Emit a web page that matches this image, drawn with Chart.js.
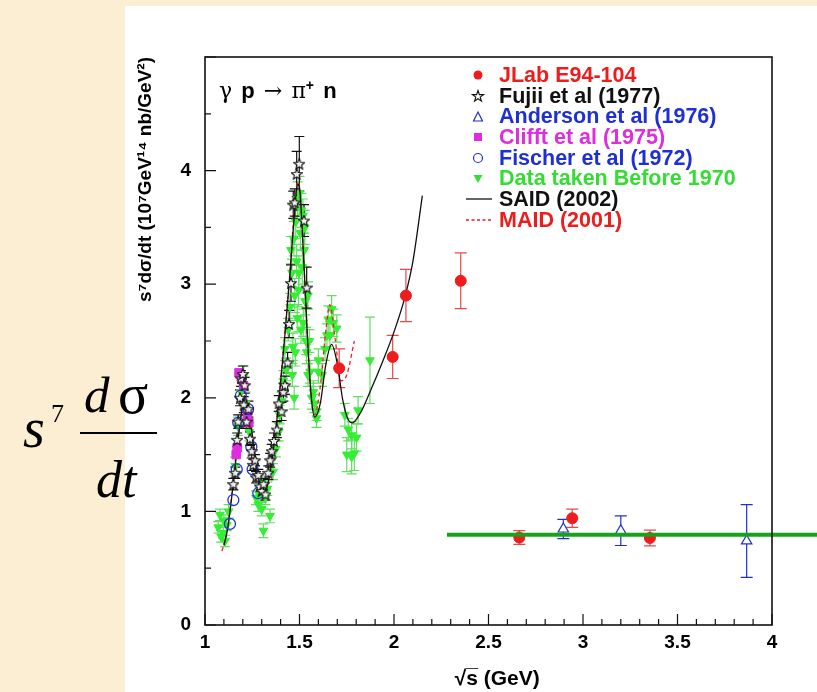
<!DOCTYPE html>
<html>
<head>
<meta charset="utf-8">
<script src="https://cdn.jsdelivr.net/npm/chart.js@4/dist/chart.umd.min.js"></script>
<style>
  body { margin: 0; width: 817px; height: 692px; overflow: hidden; background: #fbeed3; position: relative; }
  #panel { position: absolute; left: 125px; top: 6px; width: 692px; height: 686px; background: #fff; }
  #plot { position: absolute; left: 125px; top: 6px; }
  .lbl { position: absolute; white-space: nowrap; }
  .tm { font-family: "Liberation Serif", "DejaVu Serif", serif; font-style: italic; color: #000; }
  #legend { position: absolute; left: 466px; top: 65px; font: bold 21.5px "Liberation Sans", Arial, sans-serif; }
  #legend div { height: 20.7px; line-height: 20.7px; display: flex; align-items: center; }
  #legend svg { width: 33px; height: 20px; flex: none; }
  #reac { left: 219px; top: 77px; font: bold 22px "Liberation Sans", Arial, sans-serif; word-spacing: 3px; }
  #reac .g { font-family: "DejaVu Serif", serif; font-weight: normal; }
</style>
</head>
<body>
<div id="panel"></div>
<canvas id="plot" width="692" height="686"></canvas>

<div id="reac" class="lbl"><span class="g">γ</span> p <span class="g">→</span> <span class="g">π</span><sup style="font-size:14px">+</sup> n</div>

<div id="legend">
  <div style="color:#ee1c1c"><svg><circle cx="12" cy="10" r="4.5" fill="#ee1c1c"/></svg>JLab E94-104</div>
  <div style="color:#111"><svg><polygon points="12,4.5 13.4,8.6 17.6,8.6 14.2,11.1 15.5,15.2 12,12.7 8.5,15.2 9.8,11.1 6.4,8.6 10.6,8.6" fill="none" stroke="#111" stroke-width="1.1"/></svg>Fujii et al (1977)</div>
  <div style="color:#1f2fd6"><svg><polygon points="12,5 16.5,14 7.5,14" fill="none" stroke="#1f2fd6" stroke-width="1.2"/></svg>Anderson et al (1976)</div>
  <div style="color:#e02ce0"><svg><rect x="8" y="6" width="8" height="8" fill="#e02ce0"/></svg>Clifft et al (1975)</div>
  <div style="color:#1f2fd6"><svg><circle cx="12" cy="10" r="4.5" fill="none" stroke="#1f2fd6" stroke-width="1.2"/></svg>Fischer et al (1972)</div>
  <div style="color:#33dd33"><svg><polygon points="7.5,6 16.5,6 12,14" fill="#33dd33"/></svg>Data taken Before 1970</div>
  <div style="color:#111"><svg><line x1="0" y1="10" x2="26" y2="10" stroke="#111" stroke-width="1.3"/></svg>SAID (2002)</div>
  <div style="color:#ee1c1c"><svg><line x1="0" y1="10" x2="26" y2="10" stroke="#ee1c1c" stroke-width="1.3" stroke-dasharray="3,2.5"/></svg>MAID (2001)</div>
</div>

<div class="lbl tm" style="left:23px; top:400px; font-size:56px; line-height:56px;">s</div>
<div class="lbl" style="left:51px; top:401px; font:26px 'Liberation Serif', serif; line-height:26px;">7</div>
<div class="lbl tm" style="left:84px; top:370px; font-size:51px; line-height:51px;">d</div>
<div class="lbl" style="left:118px; top:366px; font:56px 'Liberation Serif', serif; line-height:56px;">σ</div>
<div class="lbl" style="left:80px; top:432px; width:77px; height:2px; background:#000;"></div>
<div class="lbl tm" style="left:96px; top:454px; font-size:52px; line-height:52px;">dt</div>

<script>
// ---- data (x = sqrt(s) GeV, y = s^7 dsigma/dt, err) ----
var jlabX = [1.71, 1.993, 2.063, 2.353, 2.663, 2.943, 3.354];
var jlabY = [2.26, 2.36, 2.90, 3.03, 0.77, 0.94, 0.766];
var jlabE = [0.17, 0.19, 0.23, 0.245, 0.06, 0.08, 0.07];

var andX = [2.896, 3.20, 3.866];
var andY = [0.845, 0.83, 0.74];
var andE = [0.085, 0.13, 0.32];

var fujiiX = [1.150, 1.160, 1.170, 1.176, 1.185, 1.190, 1.200, 1.205, 1.210, 1.220, 1.230, 1.238, 1.247, 1.255, 1.265, 1.270, 1.282, 1.290, 1.300, 1.310, 1.320, 1.335, 1.345, 1.353, 1.365, 1.380, 1.390, 1.405, 1.415, 1.423, 1.437, 1.445, 1.455, 1.467, 1.475, 1.485, 1.499, 1.524, 1.538];
var fujiiY = [1.24, 1.34, 1.63, 1.79, 2.00, 2.17, 2.21, 1.94, 2.11, 1.79, 1.90, 1.64, 1.53, 1.41, 1.45, 1.30, 1.32, 1.22, 1.18, 1.24, 1.15, 1.34, 1.45, 1.53, 1.62, 1.72, 1.95, 1.88, 2.05, 2.11, 2.31, 2.65, 3.01, 3.70, 3.72, 3.97, 4.06, 3.56, 2.97];
var fujiiE = [0.05, 0.05, 0.06, 0.06, 0.07, 0.07, 0.07, 0.07, 0.07, 0.06, 0.07, 0.06, 0.06, 0.05, 0.05, 0.05, 0.05, 0.05, 0.05, 0.05, 0.05, 0.06, 0.06, 0.06, 0.07, 0.07, 0.07, 0.08, 0.08, 0.08, 0.09, 0.12, 0.16, 0.12, 0.12, 0.2, 0.24, 0.14, 0.18];

var clifftX = [1.165, 1.170, 1.180, 1.195, 1.205, 1.225, 1.232];
var clifftY = [1.50, 1.56, 2.22, 2.16, 2.10, 1.84, 1.78];

var fischerX = [1.132, 1.150, 1.168, 1.176, 1.190, 1.228, 1.245, 1.252, 1.282];
var fischerY = [0.89, 1.10, 1.37, 1.78, 2.02, 1.90, 1.57, 1.37, 1.16];

var oldX = [1.070, 1.079, 1.085, 1.097, 1.106, 1.100, 1.115, 1.125,
  1.160, 1.175, 1.190, 1.205, 1.215, 1.235,
  1.270, 1.282, 1.300, 1.309, 1.320, 1.330, 1.344, 1.300, 1.290,
  1.360, 1.375, 1.390, 1.395, 1.405, 1.415, 1.423, 1.430, 1.440, 1.450, 1.460, 1.465, 1.470,
  1.455, 1.462, 1.472, 1.478, 1.488, 1.497, 1.508, 1.518, 1.528, 1.545, 1.552,
  1.475, 1.480, 1.485, 1.490, 1.495, 1.500, 1.505, 1.510, 1.515, 1.520, 1.525, 1.530, 1.535, 1.538, 1.545,
  1.556, 1.565, 1.573, 1.580, 1.590, 1.590, 1.600, 1.600, 1.620, 1.635, 1.645, 1.652, 1.661, 1.670, 1.679, 1.697,
  1.740, 1.758, 1.776, 1.802, 1.810, 1.750, 1.776, 1.790, 1.873];
var oldY = [0.86, 0.97, 0.78, 0.81, 0.74, 0.92, 0.88, 1.00,
  1.40, 1.75, 2.05, 2.18, 1.95, 1.70,
  1.12, 1.06, 1.02, 0.83, 1.12, 1.20, 0.96, 1.25, 1.15,
  1.35, 1.55, 1.70, 1.85, 1.97, 2.15, 2.43, 2.25, 2.60, 2.80, 3.10, 2.45, 3.40,
  3.30, 2.20, 2.00, 2.40, 2.70, 3.10, 2.60, 3.60, 3.50, 2.90, 2.50,
  2.90, 3.55, 3.20, 3.75, 2.95, 3.80, 3.45, 3.65, 3.15, 2.66, 3.30, 2.85, 2.50, 2.40, 2.20,
  2.23, 2.00, 2.05, 1.95, 1.88, 1.82, 2.33, 2.23, 2.20, 2.43, 2.55, 2.69, 2.55, 2.78, 2.66, 2.61,
  1.85, 1.72, 1.67, 1.65, 1.89, 1.50, 1.48, 1.51, 2.33];
var oldE = [0.05, 0.05, 0.05, 0.05, 0.05, 0.05, 0.05, 0.06,
  0.08, 0.08, 0.1, 0.1, 0.1, 0.08,
  0.06, 0.06, 0.06, 0.06, 0.06, 0.06, 0.06, 0.06, 0.06,
  0.07, 0.07, 0.08, 0.08, 0.08, 0.09, 0.1, 0.1, 0.1, 0.12, 0.12, 0.12, 0.15,
  0.12, 0.1, 0.1, 0.12, 0.12, 0.15, 0.12, 0.15, 0.15, 0.12, 0.1,
  0.15, 0.15, 0.15, 0.15, 0.15, 0.15, 0.15, 0.15, 0.15, 0.12, 0.15, 0.12, 0.12, 0.1, 0.1,
  0.1, 0.1, 0.1, 0.08, 0.08, 0.08, 0.1, 0.1, 0.1, 0.1, 0.1, 0.12, 0.12, 0.12, 0.12, 0.12,
  0.1, 0.1, 0.12, 0.12, 0.12, 0.15, 0.15, 0.15, 0.38];

var saidX = [1.10, 1.12, 1.15, 1.18, 1.21, 1.23, 1.26, 1.29, 1.31, 1.34, 1.38, 1.42, 1.45, 1.47, 1.49, 1.50, 1.52, 1.54, 1.56, 1.58, 1.61, 1.64, 1.67, 1.70, 1.73, 1.76, 1.78, 1.82, 1.88, 1.94, 2.00, 2.06, 2.10, 2.15];
var saidY = [0.70, 0.85, 1.25, 1.70, 2.00, 1.90, 1.55, 1.22, 1.17, 1.30, 1.80, 2.50, 3.10, 3.55, 3.88, 3.85, 3.30, 2.60, 2.05, 1.83, 1.95, 2.30, 2.47, 2.30, 1.97, 1.80, 1.78, 1.86, 2.08, 2.32, 2.58, 2.90, 3.20, 3.78];

var maidX = [1.09, 1.12, 1.15, 1.18, 1.21, 1.23, 1.26, 1.29, 1.31, 1.34, 1.38, 1.42, 1.45, 1.47, 1.49, 1.50, 1.52, 1.54, 1.56, 1.58, 1.61, 1.64, 1.66, 1.69, 1.72, 1.75, 1.79];
var maidY = [0.65, 0.85, 1.28, 1.72, 2.02, 1.92, 1.55, 1.22, 1.16, 1.30, 1.82, 2.52, 3.12, 3.58, 3.90, 3.85, 3.30, 2.60, 2.05, 1.85, 2.10, 2.60, 2.82, 2.50, 2.15, 2.20, 2.50];

var levelX = [2.28, 4.24];
var levelY = [0.795, 0.795];

function pts(xs, ys) {
  return xs.map(function (x, i) { return { x: x, y: ys[i] }; });
}

function starImg(size, color) {
  var c = document.createElement("canvas");
  c.width = size; c.height = size;
  var g = c.getContext("2d");
  g.beginPath();
  for (var i = 0; i < 10; i++) {
    var r = i % 2 ? size * 0.21 : size * 0.47;
    var a = -Math.PI / 2 + i * Math.PI / 5;
    g.lineTo(size / 2 + r * Math.cos(a), size / 2 + 0.5 + r * Math.sin(a));
  }
  g.closePath();
  g.fillStyle = "rgba(255,255,255,0.9)";
  g.fill();
  g.strokeStyle = color;
  g.lineWidth = 1.1;
  g.stroke();
  return c;
}

// error bars + frame with inward ticks (ROOT style)
var rootPlugin = {
  id: "rootStyle",
  beforeDatasetsDraw: function (chart) {
    var ctx = chart.ctx, xs = chart.scales.x, ys = chart.scales.y;
    ctx.save();
    chart.data.datasets.slice().reverse().forEach(function (ds) {
      if (!ds.errs) return;
      ctx.strokeStyle = ds.errColor;
      ctx.lineWidth = 1.2;
      ds.data.forEach(function (p, i) {
        var px = xs.getPixelForValue(p.x);
        var y1 = ys.getPixelForValue(p.y - ds.errs[i]);
        var y2 = ys.getPixelForValue(p.y + ds.errs[i]);
        var w = ds.cap;
        ctx.beginPath();
        ctx.moveTo(px, y1); ctx.lineTo(px, y2);
        ctx.moveTo(px - w, y1); ctx.lineTo(px + w, y1);
        ctx.moveTo(px - w, y2); ctx.lineTo(px + w, y2);
        ctx.stroke();
      });
    });
    ctx.restore();
  },
  afterDraw: function (chart) {
    var ctx = chart.ctx, a = chart.chartArea, xs = chart.scales.x, ys = chart.scales.y;
    ctx.save();
    ctx.strokeStyle = "#111";
    ctx.lineWidth = 1.6;
    ctx.strokeRect(a.left, a.top, a.right - a.left, a.bottom - a.top);
    ctx.lineWidth = 1.2;
    ctx.beginPath();
    for (var i = 0; i <= 30; i++) {
      var v = 1 + i * 0.1;
      var px = xs.getPixelForValue(v);
      var len = (i % 5 === 0) ? 11 : 6;
      ctx.moveTo(px, a.bottom); ctx.lineTo(px, a.bottom - len);
    }
    for (var j = 0; j <= 10; j++) {
      var py = ys.getPixelForValue(j * 0.5);
      var l = (j % 2 === 0) ? 11 : 6;
      ctx.moveTo(a.left, py); ctx.lineTo(a.left + l, py);
    }
    ctx.stroke();
    ctx.restore();
  }
};

var tickFont = { family: "'Liberation Sans', Arial, sans-serif", size: 19, weight: "bold" };

var chart = new Chart(document.getElementById("plot"), {
  type: "scatter",
  data: {
    datasets: [
      { label: "level", data: pts(levelX, levelY), showLine: true, pointRadius: 0, borderColor: "#17a317", borderWidth: 4, clip: false },
      { label: "JLab E94-104", data: pts(jlabX, jlabY), errs: jlabE, errColor: "#e8484a", cap: 6,
        pointStyle: "circle", pointRadius: 5.5, backgroundColor: "#ee1c1c", borderColor: "#ee1c1c" },
      { label: "Anderson et al (1976)", data: pts(andX, andY), errs: andE, errColor: "#2030d0", cap: 6,
        pointStyle: "triangle", pointRadius: 6, backgroundColor: "#fff", borderColor: "#2030d0", borderWidth: 1.2 },
      { label: "Fujii et al (1977)", data: pts(fujiiX, fujiiY), errs: fujiiE, errColor: "#111", cap: 5,
        pointStyle: starImg(12, "#111"), pointRadius: 6 },
      { label: "Fischer et al (1972)", data: pts(fischerX, fischerY),
        pointStyle: "circle", pointRadius: 5.5, backgroundColor: "rgba(0,0,0,0)", borderColor: "#2438d0", borderWidth: 1.3 },
      { label: "Clifft et al (1975)", data: pts(clifftX, clifftY),
        pointStyle: "rect", pointRadius: 6, backgroundColor: "#e02ce0", borderColor: "#e02ce0" },
      { label: "SAID (2002)", data: pts(saidX, saidY), showLine: true, pointRadius: 0, borderColor: "#111", borderWidth: 1.3, cubicInterpolationMode: "monotone" },
      { label: "MAID (2001)", data: pts(maidX, maidY), showLine: true, pointRadius: 0, borderColor: "#ee2222", borderWidth: 1.3, borderDash: [4, 3], cubicInterpolationMode: "monotone" },
      { label: "Data taken Before 1970", data: pts(oldX, oldY), errs: oldE, errColor: "#5fe05f", cap: 5,
        pointStyle: "triangle", rotation: 180, pointRadius: 5, backgroundColor: "#33ee33", borderColor: "#33ee33" }
    ]
  },
  options: {
    responsive: false,
    animation: false,
    layout: { padding: { left: 0, top: 51, right: 45, bottom: 0 } },
    plugins: { legend: { display: false }, tooltip: { enabled: false } },
    scales: {
      x: {
        type: "linear", min: 1, max: 4,
        grid: { display: false, drawTicks: false },
        border: { display: false },
        ticks: { stepSize: 0.5, padding: 6, color: "#000", font: tickFont, maxRotation: 0, autoSkip: false,
          callback: function (v) { return String(v); } },
        title: { display: true, text: "   √s\u0305 (GeV)", color: "#000",
          font: { family: "'Liberation Sans', Arial, sans-serif", size: 21, weight: "bold" }, padding: { top: 0, bottom: 0 } },
        afterFit: function (s) { s.height = 67; }
      },
      y: {
        min: 0, max: 5,
        grid: { display: false, drawTicks: false },
        border: { display: false },
        ticks: { stepSize: 1, padding: 14, color: "#000", font: tickFont,
          callback: function (v) { return v === 5 ? "" : String(v); } },
        title: { display: true, text: "s⁷dσ/dt (10⁷GeV¹⁴ nb/GeV²)", align: "end", color: "#000",
          font: { family: "'Liberation Sans', Arial, sans-serif", size: 19, weight: "bold" }, padding: { top: 9, bottom: 0 } },
        afterFit: function (s) { s.width = 80; }
      }
    }
  },
  plugins: [rootPlugin]
});
</script>
</body>
</html>
